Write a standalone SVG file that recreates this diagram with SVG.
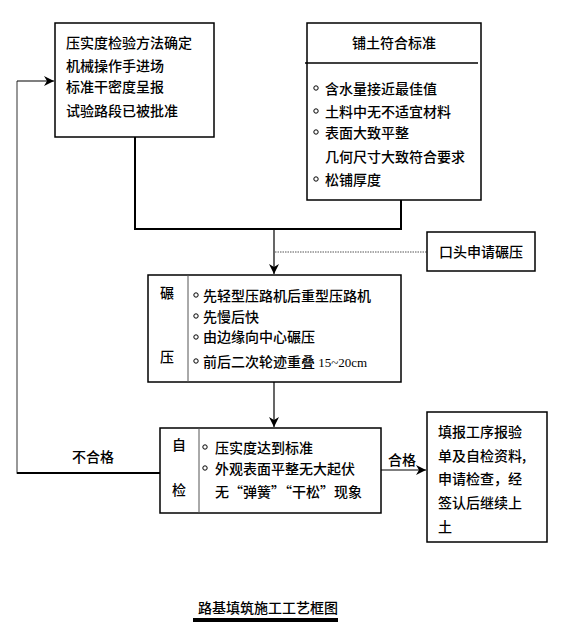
<svg xmlns="http://www.w3.org/2000/svg" width="569" height="639" viewBox="0 0 569 639">
<style>
.box{fill:#fff;stroke:#000;stroke-width:1.5}
.t{font-family:"Noto Sans CJK SC","Noto Sans CJK JP",sans-serif;font-size:14px;font-weight:500;fill:#000}
.c{text-anchor:middle}
.b{fill:#fff;stroke:#000;stroke-width:1}
.ln{fill:none;stroke:#000;stroke-width:2}
.thin{fill:none;stroke:#000;stroke-width:1.2}
</style>
<defs>
<marker id="ah" viewBox="0 0 10 10" refX="10" refY="5" markerWidth="10" markerHeight="10" markerUnits="userSpaceOnUse" orient="auto">
<path d="M0,0 L10,5 L0,10 L3,5 Z" fill="#000"/>
</marker>
</defs>
<g id="connectors">
<polyline class="ln" points="135,137 135,229 401,229 401,200"/>
<line class="thin" x1="274" y1="229" x2="274" y2="274" marker-end="url(#ah)"/>
<line x1="275" y1="252" x2="427" y2="252" stroke="#555" stroke-width="1" stroke-dasharray="1.5,1"/>
<line class="thin" x1="274" y1="382" x2="274" y2="427" marker-end="url(#ah)"/>
<polyline fill="none" stroke="#777" stroke-width="1.5" points="160,473 17,473 17,81"/>
<line class="ln" x1="17" y1="473" x2="160" y2="473"/>
<line class="thin" x1="17" y1="81" x2="54" y2="81" marker-end="url(#ah)"/>
<line class="thin" x1="381" y1="470" x2="426" y2="470" marker-end="url(#ah)"/>
<text class="t c" x="93" y="462">不合格</text>
<text class="t c" x="402" y="465">合格</text>
</g>
<g id="prep">
<rect class="box" x="55" y="23" width="159" height="114"/>
<text class="t" x="66" y="48">压实度检验方法确定</text>
<text class="t" x="66" y="71">机械操作手进场</text>
<text class="t" x="66" y="92">标准干密度呈报</text>
<text class="t" x="66" y="116">试验路段已被批准</text>
</g>
<g id="soil">
<rect class="box" x="307" y="23" width="174" height="177"/>
<line x1="305" y1="63" x2="478" y2="63" stroke="#000" stroke-width="1.5"/>
<text class="t c" x="394" y="48">铺土符合标准</text>
<circle class="b" cx="316" cy="88" r="2.2"/>
<circle class="b" cx="316" cy="111" r="2.2"/>
<circle class="b" cx="316" cy="132" r="2.2"/>
<circle class="b" cx="316" cy="179" r="2.2"/>
<text class="t" x="325" y="94">含水量接近最佳值</text>
<text class="t" x="325" y="117">土料中无不适宜材料</text>
<text class="t" x="325" y="138">表面大致平整</text>
<text class="t" x="325" y="162">几何尺寸大致符合要求</text>
<text class="t" x="325" y="185">松铺厚度</text>
</g>
<g id="request">
<rect class="box" x="427" y="232" width="108" height="39"/>
<text class="t c" x="481" y="257">口头申请碾压</text>
</g>
<g id="roll">
<rect class="box" x="148" y="275" width="253" height="107"/>
<line x1="188" y1="275" x2="188" y2="382" stroke="#555" stroke-width="1"/>
<text class="t c" x="167" y="298">碾</text>
<text class="t c" x="167" y="362">压</text>
<circle class="b" cx="196" cy="295" r="2.2"/>
<circle class="b" cx="196" cy="316" r="2.2"/>
<circle class="b" cx="196" cy="337" r="2.2"/>
<circle class="b" cx="196" cy="361" r="2.2"/>
<text class="t" x="203" y="301">先轻型压路机后重型压路机</text>
<text class="t" x="203" y="322">先慢后快</text>
<text class="t" x="203" y="342">由边缘向中心碾压</text>
<text class="t" x="203" y="367">前后二次轮迹重叠 <tspan font-family="Liberation Serif,serif" font-size="13" font-weight="normal">15~20cm</tspan></text>
</g>
<g id="selfcheck">
<rect class="box" x="160" y="428" width="221" height="85"/>
<line x1="199" y1="428" x2="199" y2="513" stroke="#555" stroke-width="1"/>
<text class="t c" x="179" y="450">自</text>
<text class="t c" x="179" y="495">检</text>
<circle class="b" cx="205" cy="447" r="2.2"/>
<circle class="b" cx="205" cy="468" r="2.2"/>
<text class="t" x="215" y="453">压实度达到标准</text>
<text class="t" x="215" y="474">外观表面平整无大起伏</text>
<text class="t" x="215" y="497">无“弹簧”“干松”现象</text>
</g>
<g id="report">
<rect class="box" x="427" y="412" width="120" height="130"/>
<text class="t" x="438" y="437">填报工序报验</text>
<text class="t" x="438" y="461">单及自检资料,</text>
<text class="t" x="438" y="484">申请检查，经</text>
<text class="t" x="438" y="508">签认后继续上</text>
<text class="t" x="438" y="532">土</text>
</g>
<g id="title">
<text class="t" x="198" y="613" font-weight="bold">路基填筑施工工艺框图</text>
<rect x="193" y="618" width="145" height="4" fill="#000"/>
</g>
</svg>
